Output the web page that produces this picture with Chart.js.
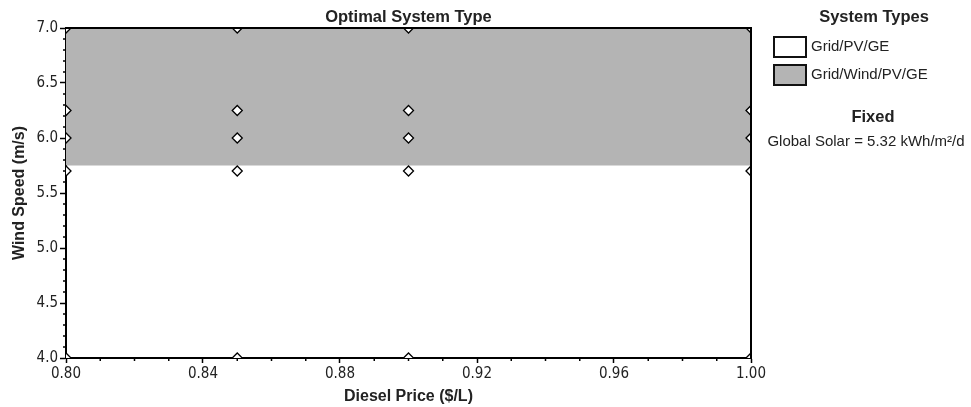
<!DOCTYPE html>
<html>
<head>
<meta charset="utf-8">
<script src="https://cdn.jsdelivr.net/npm/chart.js@4"></script>
<style>
  html, body { margin: 0; padding: 0; background: #fff; }
  #wrap { width: 971px; height: 407px; }
</style>
</head>
<body>
<div id="wrap"><canvas id="optimal-chart"></canvas></div>
<script>
// sensitivity grid (diesel price x wind speed)
const dieselPrices = [0.80, 0.85, 0.90, 1.00];
const windSpeeds = [4.0, 5.7, 6.0, 6.25, 7.0];
// lower edge of the Grid/Wind/PV/GE region at each diesel price
const windBoundary = [5.75, 5.75, 5.75, 5.75];

const xTicks = [0.80, 0.84, 0.88, 0.92, 0.96, 1.00];
const yTicks = [4.0, 4.5, 5.0, 5.5, 6.0, 6.5, 7.0];

const systemTypes = ['Grid/PV/GE', 'Grid/Wind/PV/GE'];
const systemColors = ['#ffffff', '#b4b4b4'];
const fixedLabel = 'Global Solar = 5.32 kWh/m²/d';

const tickFont = { family: "'DejaVu Sans Condensed', 'DejaVu Sans', sans-serif", size: 15 };
const boldFont = { family: "'Liberation Sans', Arial, sans-serif", size: 16, weight: 'bold' };

const points = [];
dieselPrices.forEach(x => windSpeeds.forEach(y => points.push({ x, y })));

const framePlugin = {
    id: 'frame',
    afterDatasetsDraw(chart) {
        const { ctx, chartArea: a, scales: { x, y } } = chart;
        ctx.save();
        ctx.strokeStyle = '#000';
        ctx.lineWidth = 2;
        ctx.beginPath();
        ctx.moveTo(a.left, a.top);
        ctx.lineTo(a.right, a.top);
        ctx.lineTo(a.right, a.bottom);
        ctx.stroke();

        // minor ticks
        ctx.lineWidth = 1.5;
        ctx.beginPath();
        for (let i = 1; i < 20; i++) {
            if (i % 4 === 0) continue;
            const px = x.getPixelForValue(0.80 + i * 0.01);
            ctx.moveTo(px, a.bottom);
            ctx.lineTo(px, a.bottom + 3);
        }
        for (let i = 1; i < 30; i++) {
            if (i % 5 === 0) continue;
            const py = y.getPixelForValue(4.0 + i * 0.1);
            ctx.moveTo(a.left, py);
            ctx.lineTo(a.left - 3, py);
        }
        ctx.stroke();
        ctx.restore();
    },
    afterDraw(chart) {
        const { ctx, chartArea: a } = chart;
        ctx.save();
        ctx.fillStyle = '#222';
        ctx.textBaseline = 'middle';
        ctx.textAlign = 'center';
        ctx.font = "bold 16.5px 'Liberation Sans', Arial, sans-serif";
        ctx.fillText('Optimal System Type', (a.left + a.right) / 2, 17);

        // legend
        ctx.fillText('System Types', 874, 17);
        ctx.fillText('Fixed', 873, 117);
        ctx.font = "15px 'Liberation Sans', Arial, sans-serif";
        ctx.fillText(fixedLabel, 866, 142);
        ctx.textAlign = 'left';
        systemTypes.forEach((name, i) => {
            const top = 37 + i * 28;
            ctx.fillStyle = systemColors[i];
            ctx.fillRect(774, top, 32, 20);
            ctx.strokeStyle = '#111';
            ctx.lineWidth = 2;
            ctx.strokeRect(774, top, 32, 20);
            ctx.fillStyle = '#222';
            ctx.fillText(name, 811, top + 10);
        });
        ctx.restore();
    }
};

function initChart() {
    const ctx = document.getElementById('optimal-chart').getContext('2d');
    new Chart(ctx, {
        type: 'scatter',
        data: {
            datasets: [{
                label: 'Sensitivity cases',
                data: points,
                pointStyle: 'rectRot',
                pointRadius: 5,
                pointBackgroundColor: '#fff',
                pointBorderColor: '#000',
                pointBorderWidth: 1.3,
                clip: 0
            }, {
                type: 'line',
                label: systemTypes[1],
                data: dieselPrices.map((x, i) => ({ x, y: windBoundary[i] })),
                fill: 'end',
                backgroundColor: systemColors[1],
                borderWidth: 0,
                pointRadius: 0
            }]
        },
        options: {
            responsive: true,
            maintainAspectRatio: false,
            animation: false,
            layout: { padding: { top: 28, right: 220, left: 0, bottom: 0 } },
            plugins: {
                legend: { display: false },
                tooltip: { enabled: false }
            },
            scales: {
                x: {
                    type: 'linear',
                    min: 0.80,
                    max: 1.00,
                    afterBuildTicks: s => { s.ticks = xTicks.map(v => ({ value: v })); },
                    afterFit: s => { s.height = 49; },
                    ticks: {
                        callback: v => v.toFixed(2),
                        font: tickFont,
                        color: '#222',
                        padding: 2,
                        maxRotation: 0,
                        autoSkip: false
                    },
                    grid: { drawOnChartArea: false, tickLength: 5, tickColor: '#000', tickWidth: 1.5 },
                    border: { color: '#000', width: 2 },
                    title: {
                        display: true,
                        text: 'Diesel Price ($/L)',
                        font: boldFont,
                        color: '#222',
                        padding: { top: 0, bottom: 1 }
                    }
                },
                y: {
                    min: 4.0,
                    max: 7.0,
                    afterBuildTicks: s => { s.ticks = yTicks.map(v => ({ value: v })); },
                    afterFit: s => { s.width = 66; },
                    ticks: {
                        callback: v => v.toFixed(1),
                        font: tickFont,
                        color: '#222',
                        padding: 2,
                        autoSkip: false
                    },
                    grid: { drawOnChartArea: false, tickLength: 6, tickColor: '#000', tickWidth: 1.5 },
                    border: { color: '#000', width: 2 },
                    title: {
                        display: true,
                        text: 'Wind Speed (m/s)',
                        font: boldFont,
                        color: '#222',
                        padding: { top: 10, bottom: 0 }
                    }
                }
            }
        },
        plugins: [framePlugin]
    });
}

document.addEventListener('DOMContentLoaded', () => {
    initChart();
});
</script>
</body>
</html>
